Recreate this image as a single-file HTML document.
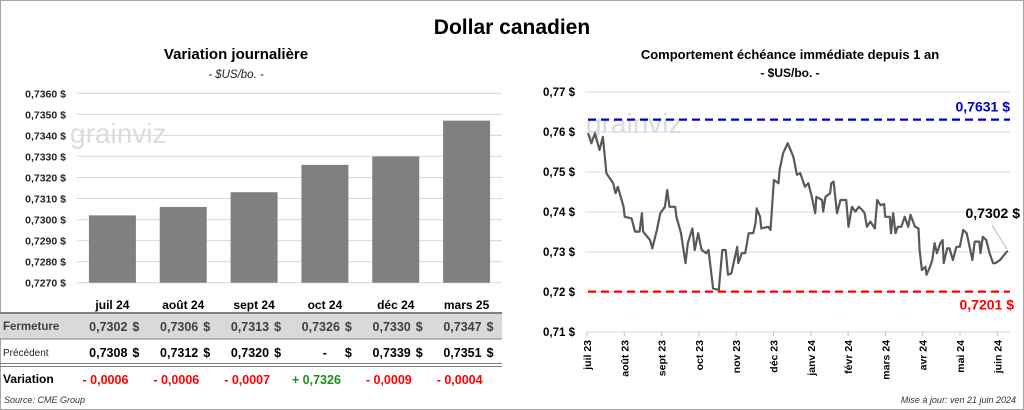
<!DOCTYPE html>
<html><head><meta charset="utf-8">
<style>
html,body{margin:0;padding:0;background:#fff;}
svg{display:block;font-family:"Liberation Sans",sans-serif;}
</style></head>
<body>
<svg id="root" width="1024" height="410" viewBox="0 0 1024 410" xmlns="http://www.w3.org/2000/svg">
<rect x="0.5" y="0.5" width="1023" height="409" fill="#fff" stroke="#a6a6a6"/>
<text x="512" y="34" text-anchor="middle" font-size="21" font-weight="bold" fill="#000">Dollar canadien</text>
<text x="236" y="59" text-anchor="middle" font-size="15" font-weight="bold">Variation  journalière</text>
<text x="236" y="78" text-anchor="middle" font-size="11.5" font-style="italic" fill="#222">- $US/bo. -</text>
<text x="790" y="59" text-anchor="middle" font-size="13" font-weight="bold">Comportement échéance immédiate depuis 1 an</text>
<text x="790" y="77" text-anchor="middle" font-size="12" font-weight="bold">- $US/bo. -</text>
<g id="left"></g>
<g id="table"></g>
<g id="right"></g>
<text x="4" y="403" font-size="9" font-style="italic" fill="#333">Source: CME Group</text>
<text x="1016" y="403" text-anchor="end" font-size="9" font-style="italic" fill="#333">Mise à jour: ven 21 juin 2024</text>
</svg>
<script>
const barCategories=["juil 24","août 24","sept 24","oct 24","déc 24","mars 25"];
const closeValues=[0.7302,0.7306,0.7313,0.7326,0.7330,0.7347];
const prevValues=[0.7308,0.7312,0.7320,null,0.7339,0.7351];
const changeLabels=["- 0,0006","- 0,0006","- 0,0007","+ 0,7326","- 0,0009","- 0,0004"];
const changeSigns=[-1,-1,-1,1,-1,-1];
const leftTicks=[0.7270,0.7280,0.7290,0.7300,0.7310,0.7320,0.7330,0.7340,0.7350,0.7360];

const lineDays=[0,3,6,10,13,16,22,24,26,31,32,38,41,45,47,48,54,56,60,63,67,69,71,76,77,81,85,87,91,93,96,99,103,105,109,114,117,120,122,125,130,131,134,137,140,144,146,147,150,151,157,159,162,166,167,170,174,179,182,185,189,192,195,198,199,204,205,207,211,212,214,217,220,225,227,230,233,236,239,241,243,246,250,252,255,258,259,263,264,266,268,270,273,276,279,281,285,288,289,291,294,295,298,300,302,304,307,309,310,313,315,318,321,324,327,330,335,337,341,342,344,347,350,353,355,359,365,366];
const lineValues=[0.7597,0.7572,0.7597,0.7555,0.7588,0.7497,0.7472,0.7447,0.7463,0.7413,0.7388,0.7384,0.7351,0.7351,0.7397,0.7351,0.7330,0.7309,0.7355,0.7397,0.7413,0.7455,0.7413,0.7413,0.7388,0.7347,0.7272,0.7322,0.7359,0.7305,0.7347,0.7305,0.7297,0.7305,0.7209,0.7205,0.7305,0.7305,0.7243,0.7247,0.7313,0.7272,0.7297,0.7297,0.7347,0.7347,0.7372,0.7409,0.7388,0.7359,0.7363,0.7355,0.7480,0.7472,0.7505,0.7547,0.7572,0.7538,0.7493,0.7497,0.7463,0.7472,0.7438,0.7397,0.7438,0.7430,0.7401,0.7438,0.7447,0.7472,0.7476,0.7397,0.7430,0.7430,0.7363,0.7413,0.7401,0.7413,0.7405,0.7397,0.7363,0.7376,0.7359,0.7430,0.7417,0.7420,0.7388,0.7388,0.7347,0.7397,0.7347,0.7363,0.7363,0.7388,0.7363,0.7393,0.7363,0.7359,0.7305,0.7255,0.7263,0.7243,0.7263,0.7280,0.7322,0.7297,0.7322,0.7330,0.7272,0.7309,0.7309,0.7280,0.7313,0.7313,0.7355,0.7347,0.7280,0.7326,0.7326,0.7297,0.7338,0.7330,0.7297,0.7272,0.7272,0.7280,0.7301,0.7302];
const monthLabels=["juil 23","août 23","sept 23","oct 23","nov 23","déc 23","janv 24","févr 24","mars 24","avr 24","mai 24","juin 24"];
const rightTicks=[0.71,0.72,0.73,0.74,0.75,0.76,0.77];
const highLevel=0.7631, lowLevel=0.7201, lastValue=0.7302;

const NS="http://www.w3.org/2000/svg";
function mk(tag,attrs,parent,text){const e=document.createElementNS(NS,tag);for(const k in attrs)e.setAttribute(k,attrs[k]);if(text!==undefined)e.textContent=text;parent.appendChild(e);return e;}
const fmt4=v=>v.toFixed(4).replace('.',',');
const fmt2=v=>v.toFixed(2).replace('.',',');

// Left bar chart
const L=document.getElementById('left');
const lx0=77,lx1=502,ly0=282.7,ly1=93.3,lmin=0.7270,lmax=0.7360;
const ly=v=>ly0-(v-lmin)/(lmax-lmin)*(ly0-ly1);
const bw=(lx1-lx0)/barCategories.length;
const bx=i=>lx0+bw*(i+0.5);
leftTicks.forEach(t=>{
  const g=mk('line',{x1:lx0,x2:lx1,y1:ly(t),y2:ly(t),stroke:'#d9d9d9','stroke-width':1},L);
  
  
  const tx=mk('text',{x:66,y:ly(t)+4,'text-anchor':'end','font-size':10.5,'font-weight':'bold',fill:'#222'},L,fmt4(t)+' $');
  
  
});
const wm1=mk('text',{x:70,y:143,'font-size':28,fill:'#dcdcdc'},L,'grainviz');


closeValues.forEach((v,i)=>{
  const r=mk('rect',{x:bx(i)-23.5,y:ly(v),width:47,height:ly0-ly(v),fill:'#808080'},L);
  
  
});

// Table
const T=document.getElementById('table');
mk('rect',{x:0,y:313,width:502,height:26,fill:'#d9d9d9'},T);
mk('line',{x1:0,x2:502,y1:313,y2:313,stroke:'#7f7f7f','stroke-width':2},T);
mk('line',{x1:0,x2:502,y1:339,y2:339,stroke:'#7f7f7f','stroke-width':1},T);
mk('line',{x1:0,x2:502,y1:363.5,y2:363.5,stroke:'#7f7f7f','stroke-width':1},T);
mk('line',{x1:0,x2:502,y1:366.5,y2:366.5,stroke:'#7f7f7f','stroke-width':1},T);
let e;
e=mk('text',{x:3,y:330,'font-size':11.5,'font-weight':'bold',fill:'#404040'},T,'Fermeture');
e=mk('text',{x:3,y:356,'font-size':10,fill:'#222'},T,'Précédent');
e=mk('text',{x:3,y:383,'font-size':12,'font-weight':'bold',fill:'#000'},T,'Variation');
barCategories.forEach((c,i)=>{
  const cx=bx(i);
  let h=mk('text',{x:cx,y:309,'text-anchor':'middle','font-size':12,'font-weight':'bold'},T,c);
  
  
  let a=mk('text',{x:cx+15,y:331,'text-anchor':'end','font-size':12.5,'font-weight':'bold',fill:'#404040'},T,fmt4(closeValues[i]));
  
  
  mk('text',{x:cx+20,y:331,'font-size':12.5,'font-weight':'bold',fill:'#404040'},T,'$');
  let b=mk('text',{x:prevValues[i]===null?cx+2:cx+15,y:357,'text-anchor':'end','font-size':12.5,'font-weight':'bold',fill:'#000'},T,prevValues[i]===null?'-':fmt4(prevValues[i]));
  
  
  mk('text',{x:cx+20,y:357,'font-size':12.5,'font-weight':'bold',fill:'#000'},T,'$');
  let d=mk('text',{x:cx+16,y:384,'text-anchor':'end','font-size':12.5,'font-weight':'bold',fill:changeSigns[i]>0?'#1e8c1e':'#ff0000'},T,changeLabels[i]);
  
  
});

// Right line chart
const R=document.getElementById('right');
const rx0=588,rx1=1008,ry0=332,ry1=92,rmin=0.71,rmax=0.77,maxDay=366;
const rx=d=>rx0+d/maxDay*(rx1-rx0);
const ry=v=>ry0-(v-rmin)/(rmax-rmin)*(ry0-ry1);
rightTicks.forEach(t=>{
  if(t>rmin){const g=mk('line',{x1:rx0-3,x2:1010,y1:ry(t),y2:ry(t),stroke:'#d9d9d9','stroke-width':1},R);
  
  }
  const tx=mk('text',{x:575,y:ry(t)+4,'text-anchor':'end','font-size':11.5,'font-weight':'bold'},R,fmt2(t)+' $');
  
  
});
mk('line',{x1:rx0-1,x2:1010,y1:ry0,y2:ry0,stroke:'#d9d9d9','stroke-width':1},R);
const wm2=mk('text',{x:586,y:133,'font-size':28,fill:'#dcdcdc'},R,'grainviz');


const tickStep=37.3;
monthLabels.forEach((m,k)=>{
  const x=587+k*tickStep;
  mk('line',{x1:x,x2:x,y1:ry0,y2:ry0+4,stroke:'#bfbfbf'},R);
  const t=mk('text',{x:0,y:0,'text-anchor':'end','font-size':10.5,'font-weight':'bold',transform:`translate(${x+4},${ry0+8}) rotate(-90)`},R,m);
  
  
});
let hl=mk('line',{x1:rx0,x2:1010,y1:ry(highLevel),y2:ry(highLevel),stroke:'#0000c0','stroke-width':2.2,'stroke-dasharray':'8,5'},R);


let ht=mk('text',{x:1010,y:ry(highLevel)-8,'text-anchor':'end','font-size':14,'font-weight':'bold',fill:'#0000c0'},R,fmt4(highLevel)+' $');


let ll=mk('line',{x1:rx0,x2:1010,y1:ry(lowLevel),y2:ry(lowLevel),stroke:'#ff0000','stroke-width':2.2,'stroke-dasharray':'8,5'},R);


let lt=mk('text',{x:1014,y:ry(lowLevel)+18,'text-anchor':'end','font-size':14,'font-weight':'bold',fill:'#ff0000'},R,fmt4(lowLevel)+' $');


const pts=lineDays.map((d,i)=>rx(d).toFixed(1)+','+ry(lineValues[i]).toFixed(1)).join(' ');
const pl=mk('polyline',{points:pts,fill:'none',stroke:'#595959','stroke-width':2.2,'stroke-linejoin':'round'},R);


const lastX=rx(lineDays[lineDays.length-1]), lastY=ry(lastValue);
mk('line',{x1:lastX-1,y1:lastY-2,x2:lastX-16,y2:lastY-26,stroke:'#a6a6a6','stroke-width':0.8},R);
const lv=mk('text',{x:1020,y:lastY-33,'text-anchor':'end','font-size':14,'font-weight':'bold'},R,fmt4(lastValue)+' $');


</script>
</body></html>
